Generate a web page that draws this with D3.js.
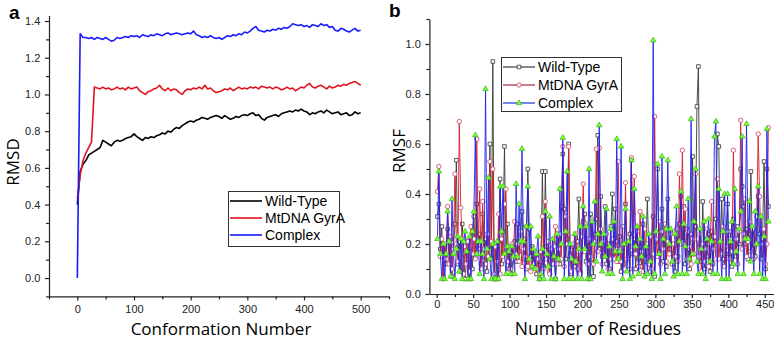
<!DOCTYPE html>
<html>
<head>
<meta charset="utf-8">
<script src="https://cdn.jsdelivr.net/npm/d3@7"></script>
<style>
  body { margin: 0; background: #fff; }
  svg { display: block; }
</style>
</head>
<body>
<svg width="774" height="342"></svg>
<script>
// ---- panel a: RMSD, every 5th conformation ----
const conformations = d3.range(0, 501, 5);
const rmsdWild = [
  0.40,0.58,0.62,0.64,0.67,0.68,0.69,0.70,0.71,0.75,
  0.74,0.73,0.72,0.74,0.75,0.745,0.75,0.76,0.765,0.77,
  0.785,0.77,0.76,0.75,0.765,0.76,0.77,0.765,0.775,0.78,
  0.79,0.785,0.80,0.795,0.81,0.82,0.815,0.83,0.84,0.85,
  0.855,0.85,0.86,0.865,0.875,0.87,0.865,0.875,0.88,0.885,
  0.88,0.87,0.885,0.875,0.865,0.87,0.88,0.875,0.885,0.89,
  0.885,0.895,0.90,0.885,0.89,0.87,0.86,0.875,0.88,0.885,
  0.89,0.88,0.895,0.90,0.905,0.91,0.905,0.915,0.91,0.92,
  0.91,0.905,0.89,0.90,0.895,0.905,0.91,0.90,0.915,0.905,
  0.895,0.90,0.905,0.89,0.895,0.90,0.885,0.89,0.905,0.895,
  0.90
];
const rmsdGyrA = [
  0.43,0.56,0.64,0.68,0.71,0.74,1.04,1.035,1.03,1.04,
  1.03,1.035,1.025,1.03,1.04,1.03,1.035,1.025,1.04,1.03,
  1.035,1.04,1.02,1.01,1.00,1.015,1.02,1.03,1.035,1.05,
  1.03,1.02,1.035,1.02,1.03,1.025,1.01,1.00,1.02,1.03,
  1.025,1.035,1.03,1.04,1.03,1.05,1.03,1.035,1.02,1.01,
  1.015,1.02,1.03,1.025,1.035,1.02,1.03,1.04,1.03,1.035,
  1.03,1.04,1.035,1.04,1.03,1.045,1.04,1.035,1.04,1.03,
  1.04,1.035,1.025,1.03,1.04,1.03,1.035,1.02,1.03,1.04,
  1.035,1.05,1.06,1.04,1.035,1.045,1.05,1.04,1.03,1.045,
  1.035,1.04,1.05,1.045,1.055,1.05,1.06,1.065,1.07,1.06,
  1.05
];
const rmsdComplex = [
  0.00,1.33,1.31,1.31,1.305,1.31,1.30,1.31,1.305,1.30,
  1.31,1.30,1.29,1.295,1.31,1.305,1.31,1.315,1.31,1.32,
  1.315,1.32,1.31,1.325,1.32,1.315,1.325,1.32,1.33,1.325,
  1.32,1.33,1.335,1.325,1.33,1.335,1.33,1.325,1.33,1.335,
  1.33,1.345,1.325,1.32,1.31,1.315,1.31,1.32,1.31,1.305,
  1.31,1.30,1.31,1.32,1.315,1.325,1.32,1.33,1.325,1.34,
  1.335,1.345,1.36,1.37,1.35,1.345,1.34,1.35,1.345,1.355,
  1.35,1.36,1.355,1.365,1.36,1.37,1.385,1.38,1.375,1.38,
  1.37,1.375,1.365,1.38,1.375,1.37,1.385,1.375,1.38,1.365,
  1.37,1.35,1.345,1.36,1.355,1.345,1.34,1.35,1.36,1.345,
  1.35
];

// ---- panel b: RMSF, every 2nd residue (1, 3, ... 455) ----
const residues = d3.range(1, 456, 2);
const rmsfWild = [
  0.31,0.36,0.18,0.27,0.07,0.20,0.12,0.26,0.15,0.22,
  0.07,0.19,0.28,0.535,0.12,0.21,0.09,0.28,0.16,0.06,
  0.14,0.21,0.06,0.17,0.10,0.31,0.15,0.36,0.18,0.24,
  0.12,0.32,0.15,0.22,0.09,0.19,0.60,0.14,0.93,0.06,
  0.18,0.06,0.21,0.46,0.12,0.25,0.59,0.16,0.28,0.10,
  0.19,0.08,0.16,0.21,0.13,0.28,0.17,0.24,0.33,0.14,
  0.22,0.10,0.50,0.26,0.15,0.19,0.11,0.14,0.08,0.16,
  0.06,0.13,0.49,0.11,0.49,0.19,0.15,0.09,0.17,0.12,
  0.20,0.06,0.15,0.23,0.12,0.35,0.56,0.34,0.14,0.22,
  0.60,0.16,0.08,0.19,0.11,0.14,0.21,0.38,0.09,0.17,
  0.29,0.32,0.13,0.21,0.06,0.32,0.14,0.07,0.24,0.30,
  0.635,0.18,0.39,0.15,0.22,0.35,0.12,0.20,0.10,0.27,
  0.40,0.16,0.34,0.21,0.13,0.23,0.09,0.17,0.12,0.36,
  0.20,0.15,0.24,0.54,0.16,0.22,0.10,0.26,0.14,0.19,
  0.11,0.28,0.13,0.20,0.38,0.15,0.09,0.23,0.31,0.07,
  0.21,0.50,0.17,0.25,0.34,0.13,0.22,0.11,0.38,0.18,
  0.25,0.12,0.20,0.09,0.23,0.15,0.28,0.39,0.21,0.35,
  0.12,0.26,0.18,0.10,0.24,0.55,0.16,0.27,0.75,0.91,
  0.20,0.13,0.37,0.10,0.22,0.15,0.24,0.09,0.25,0.12,
  0.21,0.30,0.64,0.59,0.17,0.38,0.14,0.12,0.25,0.36,
  0.16,0.25,0.11,0.30,0.22,0.15,0.27,0.20,0.50,0.43,
  0.35,0.20,0.26,0.14,0.24,0.49,0.18,0.26,0.15,0.20,
  0.39,0.24,0.14,0.22,0.53,0.10,0.50,0.35
];
const rmsfGyrA = [
  0.41,0.51,0.15,0.22,0.06,0.20,0.14,0.35,0.12,0.23,
  0.10,0.18,0.48,0.20,0.13,0.69,0.345,0.22,0.08,0.19,
  0.12,0.21,0.09,0.27,0.16,0.22,0.14,0.62,0.18,0.42,
  0.10,0.37,0.18,0.12,0.24,0.15,0.53,0.21,0.50,0.08,
  0.19,0.13,0.32,0.08,0.22,0.15,0.36,0.42,0.13,0.18,
  0.10,0.20,0.14,0.29,0.16,0.20,0.13,0.25,0.11,0.18,
  0.15,0.27,0.11,0.14,0.09,0.18,0.12,0.16,0.10,0.14,
  0.08,0.17,0.31,0.10,0.37,0.14,0.21,0.08,0.18,0.12,
  0.19,0.27,0.12,0.18,0.24,0.14,0.59,0.11,0.31,0.20,
  0.59,0.15,0.09,0.20,0.13,0.24,0.10,0.17,0.08,0.23,
  0.44,0.17,0.28,0.12,0.22,0.15,0.30,0.12,0.21,0.58,
  0.17,0.585,0.26,0.12,0.21,0.15,0.24,0.10,0.19,0.14,
  0.22,0.14,0.18,0.13,0.53,0.18,0.13,0.27,0.10,0.445,
  0.14,0.21,0.10,0.545,0.19,0.47,0.16,0.25,0.11,0.33,
  0.17,0.09,0.26,0.14,0.20,0.12,0.23,0.10,0.16,0.71,
  0.22,0.15,0.29,0.12,0.25,0.18,0.28,0.13,0.21,0.16,
  0.24,0.12,0.20,0.15,0.26,0.13,0.48,0.20,0.575,0.20,
  0.34,0.14,0.25,0.19,0.12,0.22,0.16,0.48,0.22,0.15,
  0.24,0.09,0.20,0.13,0.18,0.26,0.11,0.20,0.37,0.18,
  0.23,0.14,0.46,0.14,0.21,0.16,0.27,0.11,0.19,0.25,
  0.14,0.22,0.17,0.575,0.17,0.22,0.12,0.25,0.695,0.18,
  0.24,0.38,0.15,0.21,0.29,0.17,0.26,0.14,0.20,0.31,
  0.64,0.39,0.20,0.14,0.26,0.12,0.20,0.665
];
const rmsfComplex = [
  0.22,0.49,0.16,0.06,0.20,0.06,0.16,0.33,0.21,0.07,
  0.38,0.16,0.06,0.18,0.23,0.09,0.22,0.06,0.21,0.25,
  0.17,0.06,0.23,0.06,0.25,0.33,0.635,0.16,0.21,0.08,
  0.21,0.16,0.06,0.82,0.18,0.465,0.14,0.06,0.20,0.06,
  0.06,0.21,0.06,0.43,0.25,0.43,0.16,0.08,0.19,0.17,
  0.08,0.19,0.15,0.08,0.44,0.15,0.36,0.21,0.58,0.21,
  0.06,0.27,0.43,0.14,0.27,0.11,0.18,0.10,0.16,0.23,
  0.06,0.08,0.18,0.06,0.33,0.16,0.11,0.31,0.06,0.22,
  0.15,0.06,0.24,0.14,0.42,0.20,0.625,0.06,0.25,0.49,
  0.06,0.20,0.14,0.06,0.24,0.13,0.06,0.18,0.27,0.06,
  0.35,0.18,0.27,0.06,0.50,0.06,0.29,0.20,0.37,0.13,
  0.24,0.675,0.20,0.09,0.24,0.15,0.34,0.08,0.19,0.26,
  0.08,0.29,0.17,0.62,0.14,0.17,0.59,0.06,0.20,0.34,
  0.09,0.21,0.06,0.535,0.07,0.42,0.19,0.27,0.08,0.22,
  0.15,0.31,0.07,0.19,0.08,0.24,0.13,0.06,1.015,0.08,
  0.25,0.52,0.16,0.06,0.55,0.22,0.08,0.26,0.535,0.20,
  0.26,0.13,0.07,0.24,0.35,0.08,0.21,0.41,0.08,0.28,
  0.19,0.08,0.38,0.14,0.70,0.16,0.29,0.50,0.13,0.08,
  0.26,0.18,0.08,0.29,0.06,0.22,0.30,0.13,0.21,0.08,
  0.63,0.69,0.08,0.42,0.21,0.06,0.25,0.40,0.06,0.40,
  0.06,0.21,0.29,0.12,0.42,0.17,0.08,0.26,0.33,0.63,
  0.08,0.22,0.68,0.22,0.37,0.13,0.27,0.08,0.33,0.20,
  0.43,0.08,0.31,0.06,0.23,0.06,0.66,0.29
];

const seriesNames = ["Wild-Type", "MtDNA GyrA", "Complex"];
const rmsdTicks = [0, 0.2, 0.4, 0.6, 0.8, 1.0, 1.2, 1.4];
const confTicks = [0, 100, 200, 300, 400, 500];
const rmsfTicks = [0, 0.2, 0.4, 0.6, 0.8, 1.0];
const residueTicks = [0, 50, 100, 150, 200, 250, 300, 350, 400, 450];

const svg = d3.select("svg");
const tickFont = "'Liberation Sans', Arial, sans-serif";
const titleFont = "'Open Sans', sans-serif";

function drawAxes(g, x, y, xt, xminor, yt, yminor, yfmt, xdy) {
  const xa = g.append("g").attr("transform", `translate(0,${y.range()[0]})`)
    .call(d3.axisBottom(x).tickValues(xt).tickSize(4).tickSizeOuter(0).tickFormat(d3.format("d")));
  g.append("g").attr("transform", `translate(0,${y.range()[0]})`)
    .call(d3.axisBottom(x).tickValues(xminor).tickSize(3).tickSizeOuter(0).tickFormat(""))
    .select(".domain").remove();
  const ya = g.append("g").attr("transform", `translate(${x.range()[0]},0)`)
    .call(d3.axisLeft(y).tickValues(yt).tickSize(4).tickSizeOuter(0).tickFormat(yfmt));
  g.append("g").attr("transform", `translate(${x.range()[0]},0)`)
    .call(d3.axisLeft(y).tickValues(yminor).tickSize(3).tickSizeOuter(0).tickFormat(""))
    .select(".domain").remove();
  g.selectAll(".domain, .tick line").attr("stroke", "#222").attr("stroke-width", 1.2);
  g.selectAll(".tick text").attr("font-family", tickFont).attr("font-size", 11).attr("fill", "#222");
  xa.selectAll(".tick text").attr("dy", xdy);
  ya.selectAll(".tick text").attr("dx", "-0.15em");
}

// ================= panel a =================
const xA = d3.scaleLinear().domain([-50, 550]).range([49, 389]);
const yA = d3.scaleLinear().domain([-0.1, 1.43]).range([296.4, 15.5]);
const gA = svg.append("g");

const lineA = vals => d3.line().x((d, i) => xA(conformations[i])).y(d => yA(d))(vals);
const colorsA = ["#000000", "#e0141e", "#1a1aff"];
[rmsdWild, rmsdGyrA, rmsdComplex].forEach((vals, k) => {
  gA.append("path").attr("d", lineA(vals)).attr("fill", "none")
    .attr("stroke", colorsA[k]).attr("stroke-width", 1.6).attr("stroke-linejoin", "round");
});

drawAxes(gA, xA, yA, confTicks, [-50, 50, 150, 250, 350, 450, 550],
  rmsdTicks, [-0.1, 0.1, 0.3, 0.5, 0.7, 0.9, 1.1, 1.3], d3.format(".1f"), "0.9em");

gA.append("text").attr("x", 221).attr("y", 335).attr("text-anchor", "middle")
  .attr("font-family", titleFont).attr("font-size", 17).text("Conformation Number");
gA.append("text").attr("transform", "translate(19,162) rotate(-90)").attr("text-anchor", "middle")
  .attr("font-family", titleFont).attr("font-size", 17).text("RMSD");
gA.append("text").attr("x", 9).attr("y", 19).attr("font-family", tickFont)
  .attr("font-weight", "bold").attr("font-size", 19).text("a");

const legA = gA.append("g");
legA.append("rect").attr("x", 228.5).attr("y", 191.5).attr("width", 111).attr("height", 55)
  .attr("fill", "#fff").attr("stroke", "#333").attr("stroke-width", 1);
seriesNames.forEach((name, k) => {
  const yy = 201 + k * 17;
  legA.append("line").attr("x1", 230).attr("x2", 262).attr("y1", yy).attr("y2", yy)
    .attr("stroke", colorsA[k]).attr("stroke-width", 1.6);
  legA.append("text").attr("x", 265).attr("y", yy).attr("dy", "0.36em")
    .attr("font-family", tickFont).attr("font-size", 14).text(name);
});

// ================= panel b =================
const xB = d3.scaleLinear().domain([-10, 462]).range([429.4, 773.5]);
const yB = d3.scaleLinear().domain([0, 1.1]).range([294, 19]);
const gB = svg.append("g");

const lineB = vals => d3.line().x((d, i) => xB(residues[i])).y(d => yB(d))(vals);
const colorsB = ["#3a3a3a", "#d81c2c", "#2020f0"];
const legColorsB = ["#555555", "#b04858", "#4050e0"];
const sym = [d3.symbolSquare, d3.symbolCircle, d3.symbolTriangle];
const symSize = [13, 15, 13];
const symFill = ["#ffffff", "#ffffff", "#7cff3a"];
const symStroke = ["#333333", "#c8405a", "#44c020"];

[rmsfWild, rmsfGyrA, rmsfComplex].forEach((vals, k) => {
  gB.append("path").attr("d", lineB(vals)).attr("fill", "none")
    .attr("stroke", colorsB[k]).attr("stroke-width", 1).attr("stroke-opacity", 0.9);
  gB.append("g").selectAll("path").data(vals).enter().append("path")
    .attr("d", d3.symbol().type(sym[k]).size(symSize[k]))
    .attr("transform", (d, i) => `translate(${xB(residues[i])},${yB(d)})`)
    .attr("fill", symFill[k]).attr("stroke", symStroke[k]).attr("stroke-width", 0.8);
});

drawAxes(gB, xB, yB, residueTicks, [25, 75, 125, 175, 225, 275, 325, 375, 425],
  rmsfTicks, [0.1, 0.3, 0.5, 0.7, 0.9, 1.1], d3.format(".1f"), "0.64em");

gB.append("text").attr("x", 598).attr("y", 335).attr("text-anchor", "middle")
  .attr("font-family", titleFont).attr("font-size", 17.5).text("Number of Residues");
gB.append("text").attr("transform", "translate(405,151) rotate(-90)").attr("text-anchor", "middle")
  .attr("font-family", titleFont).attr("font-size", 17).text("RMSF");
gB.append("text").attr("x", 389).attr("y", 17).attr("font-family", tickFont)
  .attr("font-weight", "bold").attr("font-size", 19).text("b");

const legB = gB.append("g");
legB.append("rect").attr("x", 501.5).attr("y", 57.5).attr("width", 120).attr("height", 54)
  .attr("fill", "#fff").attr("stroke", "#333").attr("stroke-width", 1);
seriesNames.forEach((name, k) => {
  const yy = 67 + k * 18;
  legB.append("line").attr("x1", 503).attr("x2", 535).attr("y1", yy).attr("y2", yy)
    .attr("stroke", legColorsB[k]).attr("stroke-width", 1.4);
  legB.append("path").attr("d", d3.symbol().type(sym[k]).size(symSize[k]))
    .attr("transform", `translate(519,${yy})`)
    .attr("fill", symFill[k]).attr("stroke", symStroke[k]).attr("stroke-width", 0.8);
  legB.append("text").attr("x", 538).attr("y", yy).attr("dy", "0.36em")
    .attr("font-family", tickFont).attr("font-size", 14).text(name);
});
</script>
</body>
</html>
